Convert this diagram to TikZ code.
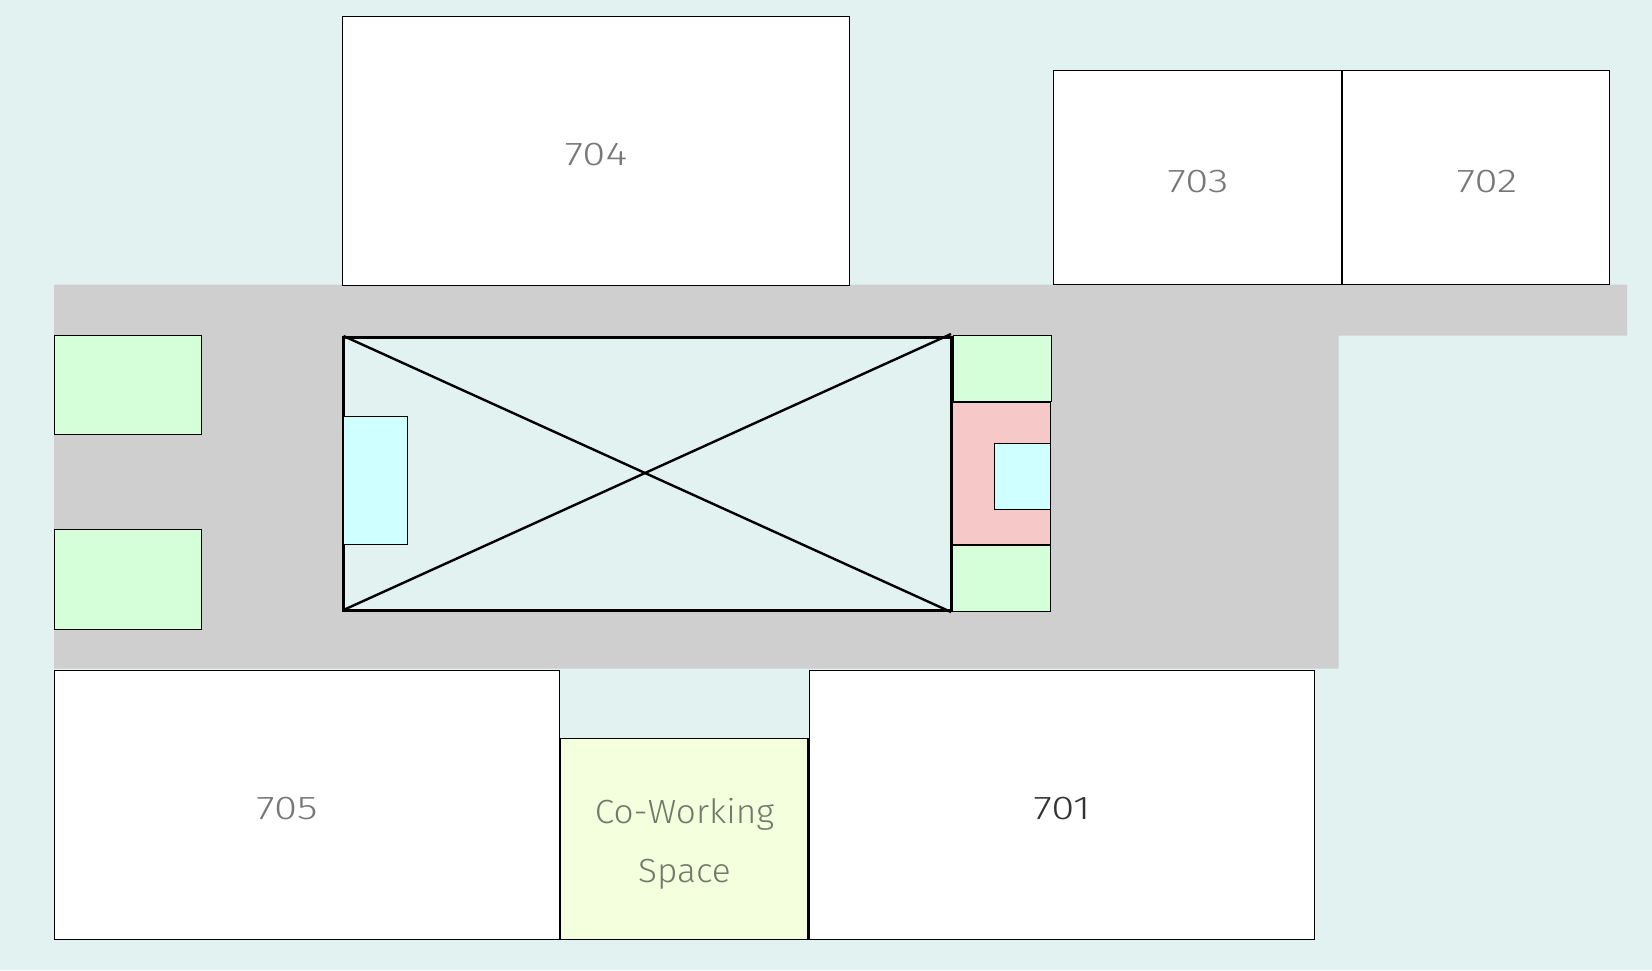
\documentclass[tikz,border=0pt]{standalone}
\usepackage{fontspec}
\setmainfont{Fira Sans Light}
\newfontfamily\digitfont[FakeStretch=1.27]{Fira Sans Light}
\newfontfamily\wordfont[FakeStretch=1.05]{Fira Sans Light}
\definecolor{bgc}{HTML}{E1F2F0}
\definecolor{hall}{HTML}{CFCFCF}
\definecolor{greenb}{HTML}{D4FFD8}
\definecolor{cyanb}{HTML}{CFFFFF}
\definecolor{pinkb}{HTML}{F7C8C8}
\definecolor{yellowb}{HTML}{F3FFDD}
\definecolor{lblc}{HTML}{777777}
\definecolor{lbldark}{HTML}{333333}
\definecolor{lblco}{HTML}{737868}
\tikzset{
  x=1pt,y=-1pt,
  box/.style={draw=black,line width=1pt,inner sep=0pt,outer sep=0pt,anchor=north west},
  room/.style={box,fill=white},
  greenbox/.style={box,fill=greenb},
  cyanbox/.style={box,fill=cyanb},
  pinkbox/.style={box,fill=pinkb},
  yellowbox/.style={box,fill=yellowb},
  lbl/.style={font=\digitfont\fontsize{33}{33}\selectfont,text=lblc,inner sep=0pt},
  wordlbl/.style={font=\wordfont\fontsize{33.5}{33.5}\selectfont,text=lblco,inner sep=0pt},
  heavy/.style={draw=black,line width=3pt,fill=bgc},
  cross/.style={draw=black,line width=2.4pt}
}
% \rectnode{style}{name}{x0}{y0}{x1}{y1}
\newcommand{\rectnode}[6]{%
  \pgfmathsetmacro{\wv}{#5-#3}\pgfmathsetmacro{\hv}{#6-#4}%
  \node[#1,minimum width=\wv pt,minimum height=\hv pt] (#2) at (#3,#4) {};}
\begin{document}
\begin{tikzpicture}
\useasboundingbox (0,0) rectangle (1652,970);
\fill[bgc] (0,0) rectangle (1652,970);
\fill[hall] (54,284.5) -- (1627,284.5) -- (1627,335.5) -- (1338.5,335.5) -- (1338.5,668.5) -- (54,668.5) -- cycle;
\rectnode{room}{r704}{342.7}{16.3}{849}{285.3}
\rectnode{room}{r703}{1053}{70.7}{1342}{284}
\rectnode{room}{r702}{1342}{70.7}{1609}{284}
\rectnode{room}{r705}{54}{670.5}{559.5}{939.5}
\rectnode{room}{r701}{809}{670.5}{1314.5}{939.5}
\rectnode{yellowbox}{cowork}{560}{738.5}{808.5}{939.5}
\draw[line width=2.4pt] (r703.north east) -- (r703.south east);
\draw[line width=2.6pt] (cowork.north west) -- (cowork.south west);
\draw[line width=2.6pt] (cowork.north east) -- (cowork.south east);
\rectnode{greenbox}{gl1}{54.3}{335.5}{201.7}{434.5}
\rectnode{greenbox}{gl2}{54.3}{529.5}{201.7}{629}
\node[heavy,inner sep=0pt,outer sep=0pt,anchor=north west,minimum width=608pt,minimum height=273.5pt] (shaft) at (343.5,337) {};
\coordinate (aStart) at (343.5,336);
\coordinate (aEnd) at (951,612);
\coordinate (bStart) at (343.5,610);
\coordinate (bEnd) at (951,334);
\draw[cross] (aStart) -- (aEnd);
\draw[cross] (bStart) -- (bEnd);
\rectnode{cyanbox}{cl}{343.5}{416}{407.5}{544.5}
\rectnode{greenbox}{gr1}{953}{335.5}{1051.5}{401.5}
\rectnode{pinkbox}{pk}{952}{402.5}{1050.7}{544.5}
\rectnode{cyanbox}{cr}{994.7}{443.5}{1050.7}{509.5}
\rectnode{greenbox}{gr2}{952}{545.5}{1050.7}{611.7}
\node[lbl] (l704) at (596,155) {704};
\node[lbl] (l703) at (1198,182) {703};
\node[lbl] (l702) at (1487,182) {702};
\node[lbl] (l705) at (287,809) {705};
\node[lbl,text=lbldark] (l701) at (1062,809) {701};
\node[wordlbl] (lco1) at (684.5,814) {Co-Working};
\node[wordlbl] (lco2) at (684.5,874) {Space};
\end{tikzpicture}
\end{document}
